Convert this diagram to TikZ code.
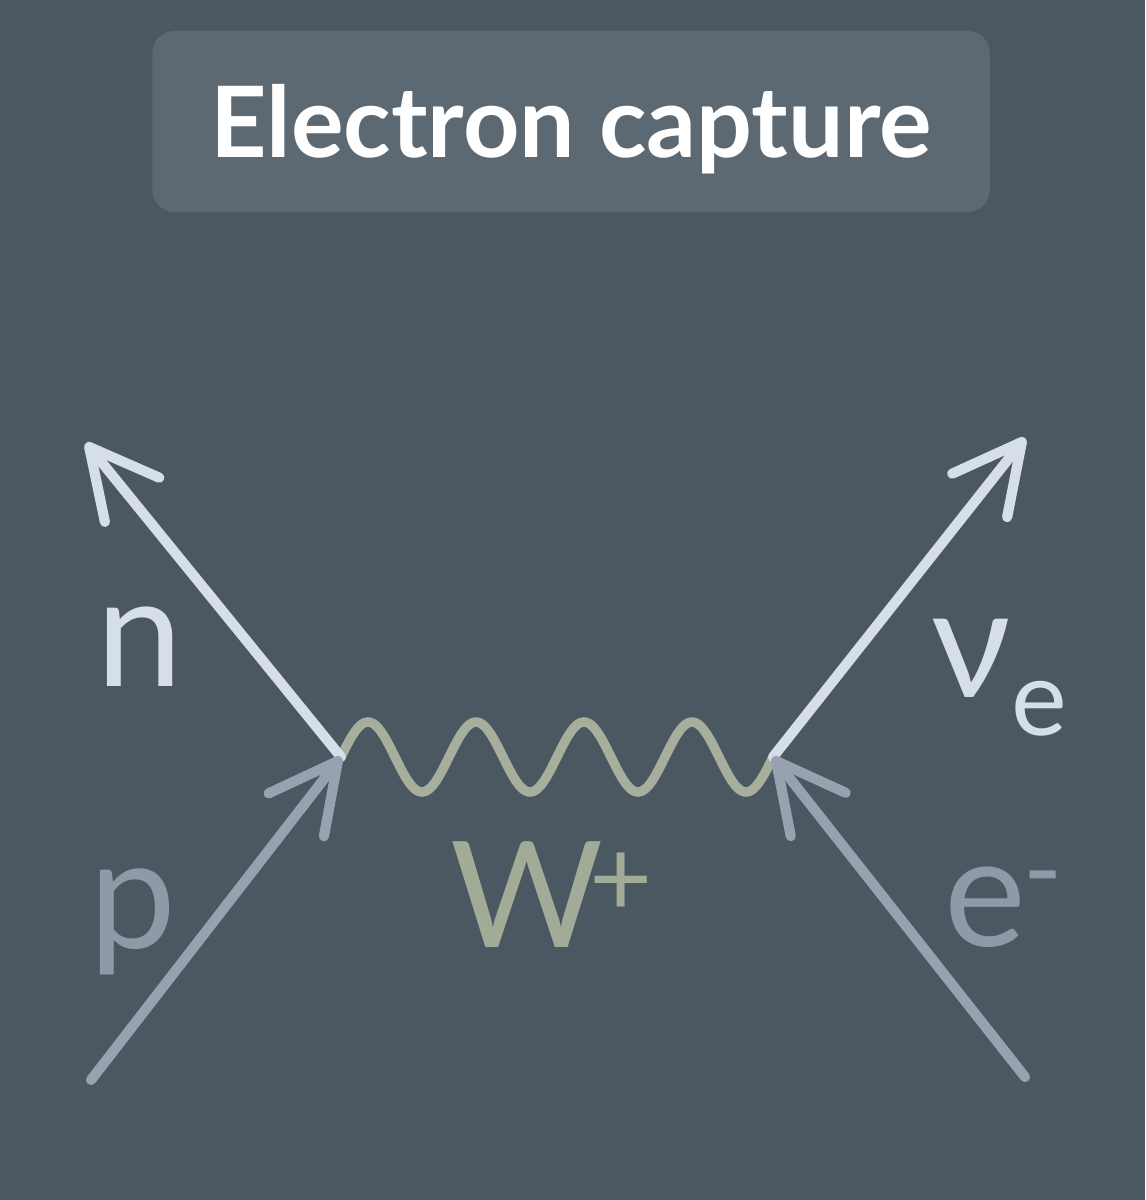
\documentclass[tikz,border=0pt]{standalone}
\usepackage{fontspec}
\setmainfont{Lato}
\definecolor{cBg}{HTML}{4B5761}
\definecolor{cBox}{HTML}{5C6872}
\definecolor{cLight}{HTML}{D6DEEA}
\definecolor{cGrey}{HTML}{97A1AF}
\definecolor{cLblGrey}{HTML}{8F99A7}
\definecolor{cWave}{HTML}{A7AF9C}
\definecolor{cLblWave}{HTML}{A2AB97}
\usetikzlibrary{arrows.meta}

\begin{document}
\begin{tikzpicture}[x=0.01cm, y=-0.01cm, line cap=round,
		barb/.tip={Straight Barb[length=0.68cm, width=0.7cm, line cap=round, line join=round]},
		fermion/.style={line width=2.9pt, -barb},
		boson/.style={line width=2.7pt, cWave},
		lbl/.style={anchor=base west, inner sep=0pt, font=\fontsize{44}{44}\selectfont}]
		\fill [cBg] (0,0) rectangle (1145,1200);
		\useasboundingbox (0,0) rectangle (1145,1200);
		\node [fill=cBox, rounded corners=0.22cm, inner sep=0pt, minimum width=8.37cm, text height=1.26cm, text depth=0.55cm, anchor=base, text=white, font=\fontsize{28}{32}\selectfont\bfseries] (title) at (571,157) {Electron capture};
		% vertices and free ends
		\coordinate (vl) at (341,757);
		\coordinate (vr) at (773,757);
		\coordinate (nend) at (86,443);
		\coordinate (pstart) at (91,1080);
		\coordinate (nuend) at (1025,438);
		\coordinate (estart) at (1025,1077);
		\draw [boson] (vl) -- plot[domain=0:1440, samples=181] ({341+0.3*\x}, {757-35*sin(\x)}) -- (vr);
		\draw [fermion, cLight] (vl) -- (nend);
		\draw [fermion, cLight] (vr) -- (nuend);
		\draw [fermion, cGrey] (pstart) -- (vl);
		\draw [fermion, cGrey] (estart) -- (vr);
		\node [lbl, text=cLight] (nlbl) at (96,686) {n};
		\node [lbl, text=cLblGrey] (plbl) at (89,948) {p};
		\node [lbl, text=cLight] (nulbl) at (931,697) {ν\raisebox{-0.38cm}{\fontsize{30}{30}\selectfont e}};
		\node [lbl, text=cLblGrey] (elbl) at (944,946) {e\hspace{-0.03cm}\raisebox{0.39cm}{\fontsize{30}{30}\selectfont -}};
		\node [lbl, text=cLblWave, font=\fontsize{42}{42}\selectfont] (wlbl) at (450,947) {W\hspace{-0.14cm}\raisebox{0.3cm}{\fontsize{31}{31}\selectfont +}};
\end{tikzpicture}
\end{document}
